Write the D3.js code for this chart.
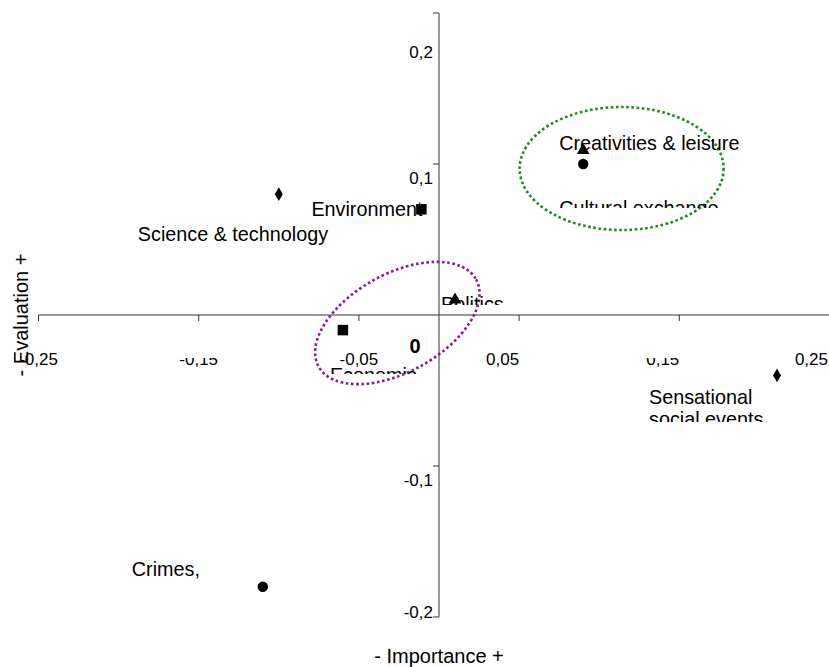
<!DOCTYPE html>
<html>
<head>
<meta charset="utf-8">
<script src="https://cdn.jsdelivr.net/npm/d3@7"></script>
<style>
    html, body { margin: 0; padding: 0; background: #fff; overflow: hidden; }
    svg { display: block; font-family: Arial, 'Liberation Sans', sans-serif; }
</style>
</head>
<body>
<svg id="chart" width="829" height="667"></svg>
<script>
(function () {
    'use strict';

    // data
    var topics = ['Science & technology', 'Sensational social events',
        'Environment', 'Economic', 'Politics', 'Creativities & leisure',
        'Cultural exchange', 'Crimes,'];
    var importance = [-0.100, 0.211, -0.011, -0.060, 0.010, 0.090, 0.090, -0.110];
    var evaluation = [0.080, -0.040, 0.070, -0.010, 0.010, 0.109, 0.100, -0.180];
    var markers = ['diamond', 'diamond', 'square', 'square',
        'triangle', 'triangle', 'circle', 'circle'];
    var xTicks = [-0.25, -0.15, -0.05, 0.05, 0.15, 0.25];
    var yTicks = [0.2, 0.1, -0.1, -0.2];

    // label placement, relative to the point (pixels)
    var labelPos = {
        'Science & technology': {dx: -141, dy: 47},
        'Sensational social events': {dx: -128, dy: 29, wrap: true, clipBottom: 422},
        'Environment': {dx: -110, dy: 7},
        'Economic': {dx: -13, dy: 52, clipBottom: 374},
        'Politics': {dx: -14, dy: 11, clipBottom: 305},
        'Creativities & leisure': {dx: -24, dy: 0},
        'Cultural exchange': {dx: -24, dy: 51, clipBottom: 208},
        'Crimes,': {dx: -131, dy: -11}
    };

    var svg = d3.select('#chart');

    var x = d3.scaleLinear().domain([-0.25, 0.25]).range([38.5, 839.5]),
        y = d3.scaleLinear().domain([-0.2, 0.2]).range([617, 13]);

    function fmt(v) {
        return String(+v.toFixed(2)).replace('.', ',');
    }

    var axisCol = '#333';

    // horizontal axis
    svg.append('line')
        .attr('x1', x(-0.25)).attr('x2', x(0.25))
        .attr('y1', y(0)).attr('y2', y(0))
        .attr('stroke', axisCol);
    svg.selectAll('.xtick').data(xTicks).enter().append('line')
        .attr('x1', function (d) { return x(d); })
        .attr('x2', function (d) { return x(d); })
        .attr('y1', y(0)).attr('y2', y(0) + 6)
        .attr('stroke', axisCol);

    // vertical axis
    svg.append('line')
        .attr('x1', x(0)).attr('x2', x(0))
        .attr('y1', y(0.2)).attr('y2', y(-0.2))
        .attr('stroke', axisCol);
    svg.selectAll('.ytick').data(yTicks).enter().append('line')
        .attr('x1', x(0) - 6).attr('x2', x(0))
        .attr('y1', function (d) { return y(d); })
        .attr('y2', function (d) { return y(d); })
        .attr('stroke', axisCol);

    // the two middle x labels are half hidden in the original
    svg.append('clipPath').attr('id', 'midclip')
        .append('rect').attr('x', 0).attr('y', 358).attr('width', 829).attr('height', 9);

    svg.selectAll('.xlab').data(xTicks).enter().append('text')
        .attr('x', function (d) { return Math.min(828, x(d)); })
        .attr('y', y(0) + 50)
        .attr('text-anchor', function (d) { return d < 0 ? 'middle' : 'end'; })
        .attr('clip-path', function (d) {
            return Math.abs(Math.abs(d) - 0.15) < 1e-9 ? 'url(#midclip)' : null;
        })
        .attr('font-size', 17)
        .text(fmt);

    svg.selectAll('.ylab').data(yTicks).enter().append('text')
        .attr('x', x(0) - 6)
        .attr('y', function (d) { return Math.max(58, Math.min(618, y(d) + 20)); })
        .attr('text-anchor', 'end')
        .attr('font-size', 17)
        .text(fmt);

    svg.append('text')
        .attr('x', x(0) - 24).attr('y', y(0) + 38)
        .attr('text-anchor', 'middle')
        .attr('font-size', 20).attr('font-weight', 'bold')
        .text('0');

    // highlighted groups
    svg.append('ellipse')
        .attr('cx', x(-0.026)).attr('cy', y(-0.0053))
        .attr('rx', 90).attr('ry', 49)
        .attr('transform', 'rotate(-29,' + x(-0.026) + ',' + y(-0.0053) + ')')
        .attr('fill', 'none').attr('stroke', '#8b1a8b')
        .attr('stroke-width', 2.6).attr('stroke-dasharray', '2.6 2.6');
    svg.append('ellipse')
        .attr('cx', x(0.114)).attr('cy', y(0.0970))
        .attr('rx', 102).attr('ry', 61.5)
        .attr('fill', 'none').attr('stroke', '#129112')
        .attr('stroke-width', 2.6).attr('stroke-dasharray', '2.6 2.6');

    // points
    var symbolType = {
        diamond: {type: d3.symbolDiamond, size: 55},
        square: {type: d3.symbolSquare, size: 110},
        triangle: {type: d3.symbolTriangle, size: 70},
        circle: {type: d3.symbolCircle, size: 85}
    };

    svg.selectAll('.pt').data(topics).enter().append('path')
        .attr('transform', function (d, i) {
            return 'translate(' + x(importance[i]) + ',' + y(evaluation[i]) + ')';
        })
        .attr('d', function (d, i) {
            var s = symbolType[markers[i]];
            return d3.symbol().type(s.type).size(s.size)();
        })
        .attr('fill', '#000');

    // point labels
    topics.forEach(function (t, i) {
        var p = labelPos[t],
            lx = x(importance[i]) + p.dx,
            ly = y(evaluation[i]) + p.dy,
            g = svg.append('g');

        if (p.clipBottom) {
            var id = 'clip' + i;
            svg.append('clipPath').attr('id', id)
                .append('rect').attr('x', 0).attr('y', p.clipBottom - 60)
                .attr('width', 829).attr('height', 60);
            g.attr('clip-path', 'url(#' + id + ')');
        }

        var lines = p.wrap ? ['Sensational', 'social events'] : [t];
        lines.forEach(function (s, k) {
            g.append('text')
                .attr('x', lx).attr('y', ly + k * 22)
                .attr('font-size', 19.8)
                .text(s);
        });
    });

    // axis titles
    svg.append('text')
        .attr('x', x(0)).attr('y', 663)
        .attr('text-anchor', 'middle').attr('font-size', 20)
        .text('- Importance +');
    svg.append('text')
        .attr('transform', 'translate(28,' + y(0) + ') rotate(-90)')
        .attr('text-anchor', 'middle').attr('font-size', 20)
        .text('- Evaluation +');
}());
</script>
</body>
</html>
